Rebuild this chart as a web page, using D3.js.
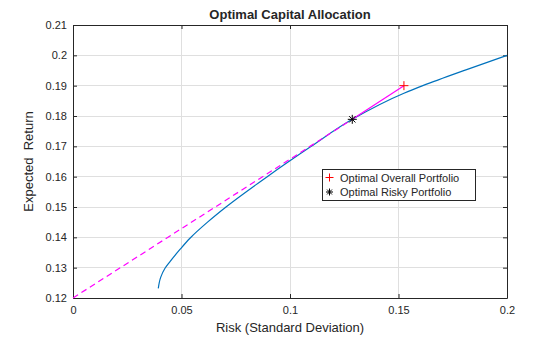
<!DOCTYPE html>
<html><head><meta charset="utf-8">
<script src="https://cdn.jsdelivr.net/npm/d3@7"></script>
<style>body{margin:0;background:#fff}svg{display:block}text{font-family:"Liberation Sans",Arial,sans-serif;fill:#262626}</style>
</head><body><svg id="c" width="560" height="337"></svg>
<script>
const frontierRisk = [0.0393,0.0404,0.0424,0.0447,0.0493,0.0539,0.0620,0.0705,0.0895,0.1098,0.1287,0.1525,0.1612,0.1814,0.2000];
const frontierRet  = [0.1232,0.1268,0.1298,0.1320,0.1360,0.1397,0.1450,0.1500,0.1600,0.1700,0.1789,0.1875,0.1900,0.1953,0.2000];
const riskFree = [0, 0.12];
const riskyPortfolio = [0.1287, 0.1789];
const overallPortfolio = [0.1525, 0.1900];
const xTicks = [0,0.05,0.1,0.15,0.2];
const yTicks = [0.12,0.13,0.14,0.15,0.16,0.17,0.18,0.19,0.2,0.21];
const legendLabels = ["Optimal Overall Portfolio","Optimal Risky Portfolio"];

const svg = d3.select("#c");
const L=73,R=507,T=25,B=298;
const x = d3.scaleLinear().domain([0,0.2]).range([L,R]);
const y = d3.scaleLinear().domain([0.12,0.21]).range([B,T]);

// grid
const g = svg.append("g");
g.selectAll(".gx").data(xTicks).join("line").attr("x1",d=>x(d)).attr("x2",d=>x(d)).attr("y1",T).attr("y2",B).attr("stroke","#dfdfdf").attr("stroke-width",1).attr("shape-rendering","crispEdges");
g.selectAll(".gy").data(yTicks).join("line").attr("y1",d=>y(d)).attr("y2",d=>y(d)).attr("x1",L).attr("x2",R).attr("stroke","#dfdfdf").attr("stroke-width",1).attr("shape-rendering","crispEdges");

// axes
const fmt = d=>String(+d.toFixed(2));
const ax = svg.append("g").attr("transform",`translate(0,${B})`).call(d3.axisBottom(x).tickValues(xTicks).tickFormat(fmt).tickSizeInner(-4).tickSizeOuter(0).tickPadding(8));
const ay = svg.append("g").attr("transform",`translate(${L},0)`).call(d3.axisLeft(y).tickValues(yTicks).tickFormat(fmt).tickSizeInner(-4).tickSizeOuter(0).tickPadding(6));
const at = svg.append("g").attr("transform",`translate(0,${T})`).call(d3.axisTop(x).tickValues(xTicks).tickFormat("").tickSizeInner(-4).tickSizeOuter(0));
const ar = svg.append("g").attr("transform",`translate(${R},0)`).call(d3.axisRight(y).tickValues(yTicks).tickFormat("").tickSizeInner(-4).tickSizeOuter(0));
[ax,ay,at,ar].forEach(a=>{a.select(".domain").attr("stroke","#262626");a.selectAll(".tick line").attr("stroke","#262626");a.selectAll("text").attr("font-size",11).attr("fill","#262626").style("font-family","'Liberation Sans',Arial,sans-serif");});

// frontier
const pts = frontierRisk.map((d,i)=>[d,frontierRet[i]]);
svg.append("path").datum(pts).attr("d",d3.line().x(d=>x(d[0])).y(d=>y(d[1])).curve(d3.curveMonotoneY)).attr("fill","none").attr("stroke","#0072BD").attr("stroke-width",1.2);

// CAL dashed
svg.append("line").attr("x1",x(riskFree[0])).attr("y1",y(riskFree[1])).attr("x2",x(riskyPortfolio[0])).attr("y2",y(riskyPortfolio[1])).attr("stroke","#FF00FF").attr("stroke-width",1.2).attr("stroke-dasharray","6,4");
svg.append("line").attr("x1",x(riskyPortfolio[0])).attr("y1",y(riskyPortfolio[1])).attr("x2",x(overallPortfolio[0])).attr("y2",y(overallPortfolio[1])).attr("stroke","#FF00FF").attr("stroke-width",1.2);

function plus(sel,cx,cy,s,col){sel.append("path").attr("d",`M${cx-s},${cy}H${cx+s}M${cx},${cy-s}V${cy+s}`).attr("stroke",col).attr("stroke-width",1).attr("fill","none");}
function star(sel,cx,cy,s,col){const d=s*0.7;sel.append("path").attr("d",`M${cx-s},${cy}H${cx+s}M${cx},${cy-s}V${cy+s}M${cx-d},${cy-d}L${cx+d},${cy+d}M${cx-d},${cy+d}L${cx+d},${cy-d}`).attr("stroke",col).attr("stroke-width",1).attr("fill","none");}
plus(svg,x(overallPortfolio[0]),y(overallPortfolio[1]),4.5,"#FF0000");
star(svg,x(riskyPortfolio[0]),y(riskyPortfolio[1]),4.5,"#000");

// legend
const lg = svg.append("g");
lg.append("rect").attr("x",322.5).attr("y",169.5).attr("width",153).attr("height",31).attr("fill","#fff").attr("stroke","#262626").attr("stroke-width",1);
plus(lg,329.5,177.5,4,"#FF0000");
star(lg,329.5,192,3.5,"#000");
lg.append("text").attr("x",340).attr("y",181.5).attr("font-size",11).text(legendLabels[0]);
lg.append("text").attr("x",340).attr("y",196).attr("font-size",11).text(legendLabels[1]);

// labels
svg.append("text").attr("x",290).attr("y",19).attr("text-anchor","middle").attr("font-size",13).attr("font-weight","bold").attr("fill","#000").text("Optimal Capital Allocation");
svg.append("text").attr("x",290).attr("y",332).attr("text-anchor","middle").attr("font-size",13).text("Risk (Standard Deviation)");
svg.append("text").attr("transform","translate(33,161.5) rotate(-90)").attr("text-anchor","middle").attr("font-size",13).style("white-space","pre").text("Expected  Return");
</script></body></html>
